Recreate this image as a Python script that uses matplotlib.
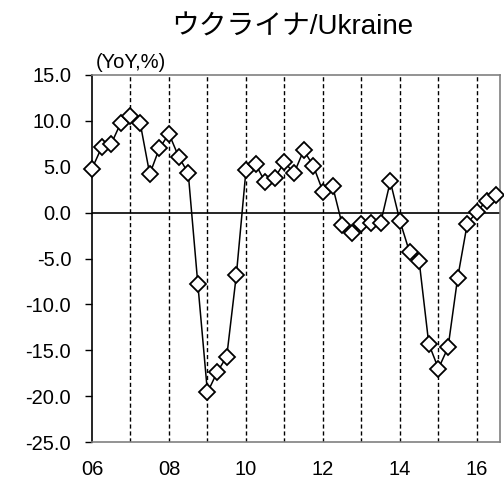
import numpy as np
import matplotlib
matplotlib.use("Agg")
import matplotlib.pyplot as plt

plt.rcParams['font.family'] = ['Liberation Sans', 'Noto Sans CJK JP']

# quarterly YoY growth, 2006Q1 - 2016Q3
start_year = 2006
yoy = [4.8, 7.1, 7.5, 9.8,
       10.5, 9.8, 4.2, 7.0,
       8.6, 6.1, 4.3, -7.8,
       -19.6, -17.4, -15.7, -6.8,
       4.6, 5.3, 3.3, 3.8,
       5.5, 4.3, 6.8, 5.1,
       2.3, 2.9, -1.3, -2.2,
       -1.2, -1.1, -1.1, 3.4,
       -0.9, -4.3, -5.3, -14.3,
       -17.0, -14.7, -7.1, -1.2,
       0.1, 1.3, 1.9]
year_ticks = [2006, 2008, 2010, 2012, 2014, 2016]
year_labels = ["06", "08", "10", "12", "14", "16"]
y_ticks = [15, 10, 5, 0, -5, -10, -15, -20, -25]

x = start_year + np.arange(len(yoy)) / 4

fig = plt.figure(figsize=(5.04, 4.84), dpi=100)
ax = fig.add_axes([92/504, 1 - 442/484, 408/504, 367/484])

# year separators
for yr in range(2007, 2017):
    ax.axvline(yr, color="black", linestyle=(0, (3, 2)), linewidth=1, zorder=1)
ax.axhline(0, color="black", linewidth=1.2, zorder=2)

ax.plot(x, yoy, color="black", linewidth=1.1, marker="D", markersize=8,
        markerfacecolor="white", markeredgecolor="black", markeredgewidth=1.3,
        zorder=3, clip_on=False)

ax.set_xlim(2006, 2016.6)
ax.set_ylim(-25, 15)
ax.set_yticks(y_ticks)
ax.set_yticklabels([f"{v:.1f}" for v in y_ticks])
ax.set_xticks(year_ticks)
ax.set_xticklabels(year_labels)
ax.tick_params(axis="x", length=0, labelsize=14.5, pad=13)
ax.tick_params(axis="y", direction="out", length=5, labelsize=14.5, width=1, pad=10)

for side in ["top", "right", "bottom"]:
    ax.spines[side].set_color("#808080")
    ax.spines[side].set_linewidth(1.2)
ax.spines["left"].set_color("black")
ax.spines["left"].set_linewidth(1.2)

fig.text(292/504, 1 - 28/484, "ウクライナ/Ukraine", ha="center", va="center", fontsize=20)
fig.text(96/504, 1 - 62/484, "(YoY,%)", ha="left", va="center", fontsize=14.5)

fig.savefig("out.png", dpi=100)
